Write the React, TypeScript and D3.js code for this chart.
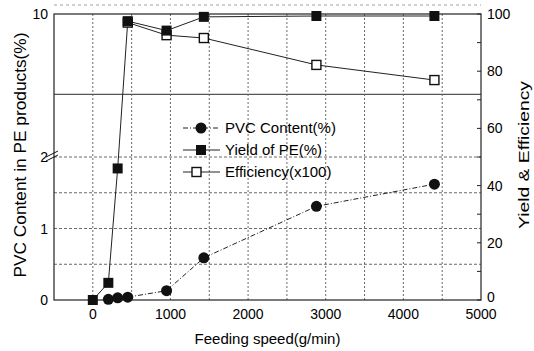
import React, { useEffect, useRef } from 'react';
import * as d3 from 'd3';

// data
const pvcSpeed = [200, 320, 450, 950, 1430, 2880, 4400];
const pvcContent = [0.01, 0.03, 0.04, 0.13, 0.59, 1.31, 1.62];

const yieldSpeed = [0, 200, 320, 450, 950, 1430, 2880, 4400];
const yieldPE = [0, 6, 46, 97.5, 94.2, 99, 99.3, 99.3];

const effSpeed = [450, 950, 1430, 2880, 4400];
const efficiency = [97, 92.6, 91.6, 82.2, 76.9];

const xTicks = [0, 1000, 2000, 3000, 4000, 5000];
const xGrid = [0, 500, 1000, 1500, 2000, 2500, 3000, 3500, 4000, 4500];
const leftTicks = [0, 1, 2, 10];
const leftGrid = [0.5, 1, 1.5, 2];
const rightTicks = [0, 20, 40, 60, 80, 100];
const rightMinor = [10, 30, 50, 70, 90];

const legendItems = ['PVC Content(%)', 'Yield of PE(%)', 'Efficiency(x100)'];

const W = 534;
const H = 351;
const FONT = "'Liberation Sans', Arial, sans-serif";

export default function App() {
  const ref = useRef<SVGSVGElement>(null);

  useEffect(() => {
    const svg = d3.select(ref.current);
    svg.selectAll('*').remove();

    const left = 54;
    const right = 481;
    const top = 14;
    const bottom = 300;

    const x = d3.scaleLinear().domain([-500, 5000]).range([left, right]);
    // broken left axis: 0-2 stretched, 2-10 squeezed
    const yL = d3.scaleLinear().domain([0, 2, 10]).range([bottom, 157, top]);
    const yR = d3.scaleLinear().domain([0, 100]).range([bottom, top]);

    const g = svg.append('g');

    // grid
    g.selectAll('.vg')
      .data(xGrid)
      .enter()
      .append('line')
      .attr('x1', (d) => x(d))
      .attr('x2', (d) => x(d))
      .attr('y1', top)
      .attr('y2', bottom)
      .attr('stroke', '#444')
      .attr('stroke-width', 0.8)
      .attr('stroke-dasharray', '2,2');

    g.selectAll('.hg')
      .data(leftGrid)
      .enter()
      .append('line')
      .attr('x1', left)
      .attr('x2', right)
      .attr('y1', (d) => yL(d))
      .attr('y2', (d) => yL(d))
      .attr('stroke', '#444')
      .attr('stroke-width', 0.8)
      .attr('stroke-dasharray', '3,2');

    // solid line in upper part of broken axis
    g.append('line')
      .attr('x1', left)
      .attr('x2', right)
      .attr('y1', yL(5.5))
      .attr('y2', yL(5.5))
      .attr('stroke', '#555')
      .attr('stroke-width', 1.2);

    // dotted line above the frame
    g.append('line')
      .attr('x1', left)
      .attr('x2', right)
      .attr('y1', 5)
      .attr('y2', 5)
      .attr('stroke', '#888')
      .attr('stroke-width', 0.8)
      .attr('stroke-dasharray', '3,3');

    // frame
    g.append('rect')
      .attr('x', left)
      .attr('y', top)
      .attr('width', right - left)
      .attr('height', bottom - top)
      .attr('fill', 'none')
      .attr('stroke', '#222')
      .attr('stroke-width', 1.2);

    // right axis minor/major ticks (inward)
    g.selectAll('.rt')
      .data(rightTicks.concat(rightMinor))
      .enter()
      .append('line')
      .attr('x1', right - 4)
      .attr('x2', right)
      .attr('y1', (d) => yR(d))
      .attr('y2', (d) => yR(d))
      .attr('stroke', '#222');

    // break mark on left axis
    [0, 4].forEach((o) => {
      g.append('line')
        .attr('x1', left - 8)
        .attr('y1', 157 + o)
        .attr('x2', left + 4)
        .attr('y2', 151 + o)
        .attr('stroke', '#111')
        .attr('stroke-width', 1);
    });

    // tick labels
    g.selectAll('.xl')
      .data(xTicks)
      .enter()
      .append('text')
      .attr('x', (d) => x(d))
      .attr('y', 319)
      .attr('text-anchor', 'middle')
      .attr('font-size', 14)
      .attr('font-family', FONT)
      .text((d) => d);

    g.selectAll('.ll')
      .data(leftTicks)
      .enter()
      .append('text')
      .attr('x', left - 6)
      .attr('y', (d) => yL(d) + 5)
      .attr('text-anchor', 'end')
      .attr('font-size', 14)
      .attr('font-family', FONT)
      .text((d) => d);

    g.selectAll('.rl')
      .data(rightTicks)
      .enter()
      .append('text')
      .attr('x', right + 6)
      .attr('y', (d) => yR(d) + (d === 0 ? 2 : 5))
      .attr('text-anchor', 'start')
      .attr('font-size', 14)
      .attr('font-family', FONT)
      .text((d) => d);

    // axis titles
    g.append('text')
      .attr('x', (left + right) / 2)
      .attr('y', 344)
      .attr('text-anchor', 'middle')
      .attr('font-size', 15)
      .attr('font-family', FONT)
      .text('Feeding speed(g/min)');

    g.append('text')
      .attr('transform', `translate(26, 155) rotate(-90)`)
      .attr('text-anchor', 'middle')
      .attr('font-size', 16)
      .attr('font-family', FONT)
      .attr('textLength', 245)
      .attr('lengthAdjust', 'spacingAndGlyphs')
      .text('PVC Content in PE products(%)');

    g.append('text')
      .attr('transform', `translate(529, 155) rotate(-90)`)
      .attr('text-anchor', 'middle')
      .attr('font-size', 14)
      .attr('font-family', FONT)
      .attr('textLength', 148)
      .attr('lengthAdjust', 'spacingAndGlyphs')
      .text('Yield & Efficiency');

    // series lines
    const pvcPts = pvcSpeed.map((s, i) => [x(s), yL(pvcContent[i])] as [number, number]);
    const yieldPts = yieldSpeed.map((s, i) => [x(s), yR(yieldPE[i])] as [number, number]);
    const effPts = effSpeed.map((s, i) => [x(s), yR(efficiency[i])] as [number, number]);
    const line = d3.line();

    g.append('path')
      .attr('d', line(effPts))
      .attr('fill', 'none')
      .attr('stroke', '#222')
      .attr('stroke-width', 1);
    g.append('path')
      .attr('d', line(yieldPts))
      .attr('fill', 'none')
      .attr('stroke', '#222')
      .attr('stroke-width', 1);
    g.append('path')
      .attr('d', line(pvcPts))
      .attr('fill', 'none')
      .attr('stroke', '#222')
      .attr('stroke-width', 1)
      .attr('stroke-dasharray', '5,2,1,2');

    // markers
    g.selectAll('.eff')
      .data(effPts)
      .enter()
      .append('rect')
      .attr('x', (d) => d[0] - 4.5)
      .attr('y', (d) => d[1] - 4.5)
      .attr('width', 9)
      .attr('height', 9)
      .attr('fill', '#fff')
      .attr('stroke', '#111')
      .attr('stroke-width', 1.4);

    g.selectAll('.yld')
      .data(yieldPts)
      .enter()
      .append('rect')
      .attr('x', (d) => d[0] - 5)
      .attr('y', (d) => d[1] - 5)
      .attr('width', 10)
      .attr('height', 10)
      .attr('fill', '#111');

    g.selectAll('.pvc')
      .data(pvcPts)
      .enter()
      .append('circle')
      .attr('cx', (d) => d[0])
      .attr('cy', (d) => d[1])
      .attr('r', 5.5)
      .attr('fill', '#111');

    // legend
    const lg = g.append('g');
    legendItems.forEach((name, i) => {
      const ly = 128 + i * 22;
      lg.append('line')
        .attr('x1', 183)
        .attr('x2', 220)
        .attr('y1', ly)
        .attr('y2', ly)
        .attr('stroke', '#222')
        .attr('stroke-width', 1)
        .attr('stroke-dasharray', i === 0 ? '5,2,1,2' : null);
      if (i === 0) {
        lg.append('circle').attr('cx', 201).attr('cy', ly).attr('r', 5.5).attr('fill', '#111');
      } else if (i === 1) {
        lg.append('rect').attr('x', 196).attr('y', ly - 5).attr('width', 10).attr('height', 10).attr('fill', '#111');
      } else {
        lg.append('rect')
          .attr('x', 192)
          .attr('y', ly - 4.5)
          .attr('width', 9)
          .attr('height', 9)
          .attr('fill', '#fff')
          .attr('stroke', '#111')
          .attr('stroke-width', 1.4);
      }
      lg.append('text')
        .attr('x', 225)
        .attr('y', ly + 5)
        .attr('font-size', 15)
        .attr('font-family', FONT)
        .text(name);
    });
  }, []);

  return (
    <svg
      ref={ref}
      width={W}
      height={H}
      style={{ position: 'absolute', left: 0, top: 0, background: '#fff' }}
    />
  );
}
